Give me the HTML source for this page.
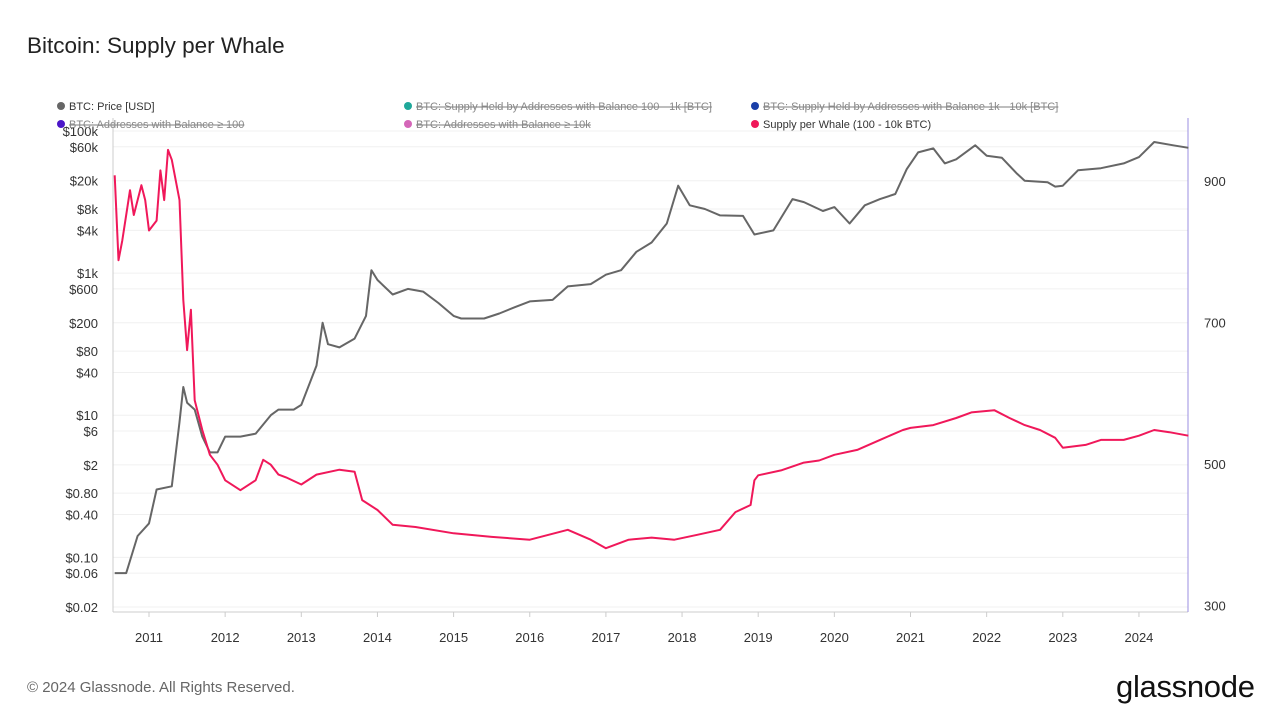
<!DOCTYPE html>
<html><head><meta charset="utf-8"><style>
body{margin:0;background:#fff;font-family:"Liberation Sans",sans-serif;}
#wrap{position:relative;width:1280px;height:720px;overflow:hidden;}
.t{position:absolute;white-space:nowrap;}
</style></head><body>
<div id="wrap">
<div class="t" style="left:27px;top:33px;font-size:22.5px;color:#222">Bitcoin: Supply per Whale</div>
<svg id="c" width="1280" height="720" style="position:absolute;left:0;top:0"></svg>
<div class="t" style="left:27px;top:679px;font-size:15px;color:#666">© 2024 Glassnode. All Rights Reserved.</div>
<div class="t" style="left:1116px;top:669px;font-size:31px;color:#111;letter-spacing:-0.3px">glassnode</div>
</div>
<script>
const priceYears=[2010.55,2010.7,2010.85,2011.0,2011.1,2011.3,2011.4,2011.45,2011.5,2011.6,2011.7,2011.8,2011.9,2012.0,2012.2,2012.4,2012.6,2012.7,2012.9,2013.0,2013.2,2013.28,2013.35,2013.5,2013.7,2013.85,2013.92,2014.0,2014.2,2014.4,2014.6,2014.8,2015.0,2015.1,2015.4,2015.6,2015.8,2016.0,2016.3,2016.5,2016.8,2017.0,2017.2,2017.4,2017.6,2017.8,2017.95,2018.1,2018.3,2018.5,2018.8,2018.95,2019.2,2019.45,2019.6,2019.85,2020.0,2020.2,2020.4,2020.6,2020.8,2020.95,2021.1,2021.3,2021.45,2021.6,2021.85,2022.0,2022.2,2022.4,2022.5,2022.8,2022.9,2023.0,2023.2,2023.5,2023.8,2024.0,2024.2,2024.45,2024.65];
const priceValues=[0.06,0.06,0.2,0.3,0.9,1,8,25,15,12,5,3,3,5,5,5.5,10,12,12,14,50,200,100,90,120,250,1100,800,500,600,550,380,250,230,230,270,330,400,420,650,700,950,1100,2000,2700,5000,17000,9000,8000,6500,6400,3500,4000,11000,10000,7500,8500,5000,9000,11000,13000,29000,50000,57000,35000,40000,63000,45000,42000,25000,20000,19000,16500,17000,28000,30000,35000,43000,70000,63000,58000];
const whaleYears=[2010.55,2010.6,2010.65,2010.75,2010.8,2010.9,2010.95,2011.0,2011.1,2011.15,2011.2,2011.25,2011.3,2011.4,2011.45,2011.5,2011.55,2011.6,2011.7,2011.8,2011.9,2012.0,2012.2,2012.4,2012.5,2012.6,2012.7,2012.8,2013.0,2013.2,2013.5,2013.7,2013.8,2014.0,2014.2,2014.5,2015.0,2015.5,2016.0,2016.5,2016.8,2017.0,2017.3,2017.6,2017.9,2018.2,2018.5,2018.7,2018.9,2018.95,2019.0,2019.3,2019.6,2019.8,2020.0,2020.3,2020.6,2020.9,2021.0,2021.3,2021.6,2021.8,2022.1,2022.3,2022.5,2022.7,2022.9,2023.0,2023.3,2023.5,2023.8,2024.0,2024.2,2024.4,2024.65];
const whaleValues=[908,788,816,887,852,894,873,830,844,915,873,944,930,873,732,661,718,590,548,513,499,477,463,477,506,499,485,481,471,485,492,489,449,435,414,411,402,397,393,407,393,381,393,396,393,400,407,432,442,477,484,491,502,505,513,520,534,548,551,555,565,573,576,565,555,548,537,523,527,534,534,540,548,545,540];
const leftTicks=[100000,60000,20000,8000,4000,1000,600,200,80,40,10,6,2,0.8,0.4,0.1,0.06,0.02];
const leftLabels=["$100k","$60k","$20k","$8k","$4k","$1k","$600","$200","$80","$40","$10","$6","$2","$0.80","$0.40","$0.10","$0.06","$0.02"];
const rightTicks=[900,700,500,300];
const xTicks=[2011,2012,2013,2014,2015,2016,2017,2018,2019,2020,2021,2022,2023,2024];
const NS="http://www.w3.org/2000/svg";
const svg=document.getElementById('c');
const X0=113,X1=1188;
const xS=y=>149+(y-2011)*76.15;
const yL=v=>607-(Math.log10(v)-Math.log10(0.02))*71.05;
const yR=v=>464-(v-500)*0.7075;
function mk(tag,at){const e=document.createElementNS(NS,tag);for(const k in at)e.setAttribute(k,at[k]);svg.appendChild(e);return e;}
leftTicks.forEach((v,i)=>{
 const g=mk('line',{x1:X0,x2:X1,y1:yL(v),y2:yL(v),stroke:'#f0f0f0','stroke-width':1});
 
 
 const t=mk('text',{x:98,y:yL(v)+5,'text-anchor':'end','font-size':13,fill:'#333','font-family':'Liberation Sans'});
 t.textContent=leftLabels[i];
 
 
});
rightTicks.forEach(v=>{
 const t=mk('text',{x:1204,y:yR(v)+5,'font-size':13,fill:'#333','font-family':'Liberation Sans'});
 t.textContent=v;
 
 
});
xTicks.forEach(v=>{
 const t=mk('text',{x:xS(v),y:642,'text-anchor':'middle','font-size':13,fill:'#333','font-family':'Liberation Sans'});
 t.textContent=v;
 
 
 const k=mk('line',{x1:xS(v),x2:xS(v),y1:612,y2:617,stroke:'#ccc'});
 
 
});
const ax=mk('line',{x1:X0,x2:X0,y1:118,y2:612,stroke:'#ccc'});


const bx=mk('line',{x1:X0,x2:X1,y1:612,y2:612,stroke:'#ccc'});


const rx=mk('line',{x1:X1,x2:X1,y1:118,y2:612,stroke:'#9b8fe0'});


const pp=mk('path',{d:priceYears.map((y,i)=>(i?'L':'M')+xS(y).toFixed(1)+','+yL(priceValues[i]).toFixed(1)).join(''),fill:'none',stroke:'#666','stroke-width':2,'stroke-linejoin':'round'});


const wp=mk('path',{d:whaleYears.map((y,i)=>(i?'L':'M')+xS(y).toFixed(1)+','+yR(whaleValues[i]).toFixed(1)).join(''),fill:'none',stroke:'#f0185a','stroke-width':2,'stroke-linejoin':'round'});


const legend=[["BTC: Price [USD]",'#666',57,106,false,'legend-btc-price'],["BTC: Supply Held by Addresses with Balance 100 - 1k [BTC]",'#1fa89a',404,106,true,'legend-supply-100-1k'],["BTC: Supply Held by Addresses with Balance 1k - 10k [BTC]",'#1a3fa8',751,106,true,'legend-supply-1k-10k'],["BTC: Addresses with Balance ≥ 100",'#4b16c8',57,124,true,'legend-addresses-100'],["BTC: Addresses with Balance ≥ 10k",'#d466b8',404,124,true,'legend-addresses-10k'],["Supply per Whale (100 - 10k BTC)",'#f0185a',751,124,false,'legend-supply-per-whale']];
legend.forEach(l=>{
 const c=mk('circle',{cx:l[2]+4,cy:l[3],r:4,fill:l[1]});
 
 
 const t=mk('text',{x:l[2]+12,y:l[3]+4,'font-size':11,fill:l[4]?'#888':'#333','font-family':'Liberation Sans','text-decoration':l[4]?'line-through':'none'});
 t.textContent=l[0];
 
 
});
</script>
</body></html>
